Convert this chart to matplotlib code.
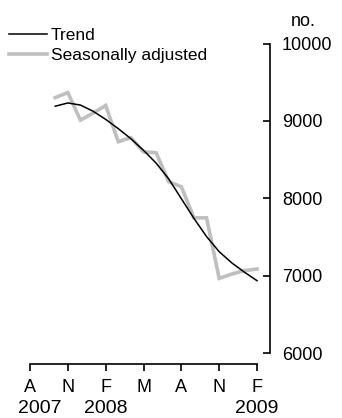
import matplotlib
matplotlib.use("Agg")
import matplotlib.pyplot as plt
import matplotlib.transforms as mtransforms

plt.rcParams['font.family'] = ['Liberation Sans', 'DejaVu Sans']

# months counted from Aug 2007 (=0)
months = list(range(2, 19))  # Oct 2007 .. Feb 2009
trend = [9190, 9232, 9205, 9125, 9020, 8900, 8770, 8620, 8455, 8250,
         7995, 7740, 7505, 7310, 7165, 7045, 6935]
seas_adj = [9301, 9366, 9010, 9100, 9200, 8731, 8783, 8600, 8589, 8214,
            8149, 7747, 7747, 6965, 7020, 7065, 7085]

tick_pos = [0, 3, 6, 9, 12, 15, 18]
tick_labels = ['A', 'N', 'F', 'M', 'A', 'N', 'F']
year_pos = [0.8, 6, 18]
year_labels = ['2007', '2008', '2009']

fig = plt.figure(figsize=(3.42, 4.18), dpi=100)
ax = fig.add_axes([30 / 342, 54 / 418, 240 / 342, 322 / 418])

ax.plot(months, seas_adj, color='#bfbfbf', lw=2.6, label='Seasonally adjusted',
        solid_joinstyle='miter', clip_on=False)
ax.plot(months, trend, color='black', lw=1.1, label='Trend', clip_on=False)

ax.set_xlim(0, 19.03)
ax.set_ylim(5858, 10020)

for s in ['top', 'left']:
    ax.spines[s].set_visible(False)
ax.spines['right'].set_bounds(6000, 10000)
ax.spines['bottom'].set_bounds(0, 18)
ax.spines['right'].set_linewidth(1.2)
ax.spines['bottom'].set_linewidth(1.2)

ax.yaxis.tick_right()
ax.set_yticks([6000, 7000, 8000, 9000, 10000])
ax.tick_params(axis='y', direction='in', length=5, width=1.2, pad=8.5, labelsize=13)
ax.set_xticks(tick_pos)
ax.set_xticklabels(tick_labels)
ax.tick_params(axis='x', direction='out', length=5, width=1.2, pad=5.5, labelsize=13)

trans = mtransforms.blended_transform_factory(ax.transData, fig.transFigure)
for x, lab in zip(year_pos, year_labels):
    ax.text(x, 5 / 418, lab, transform=trans, ha='center', va='baseline', fontsize=14)

fig.text(303 / 342, 1 - 21 / 418, 'no.', ha='center', va='center', fontsize=13)

handles, labels = ax.get_legend_handles_labels()
leg = fig.legend(handles[::-1], labels[::-1], loc='upper left',
                 bbox_to_anchor=(9 / 342, 1 - 28 / 418), frameon=False,
                 fontsize=12.5, handlelength=2.2, handletextpad=0.2,
                 labelspacing=0.25, borderpad=0, borderaxespad=0)

fig.savefig('out.png', dpi=100)
